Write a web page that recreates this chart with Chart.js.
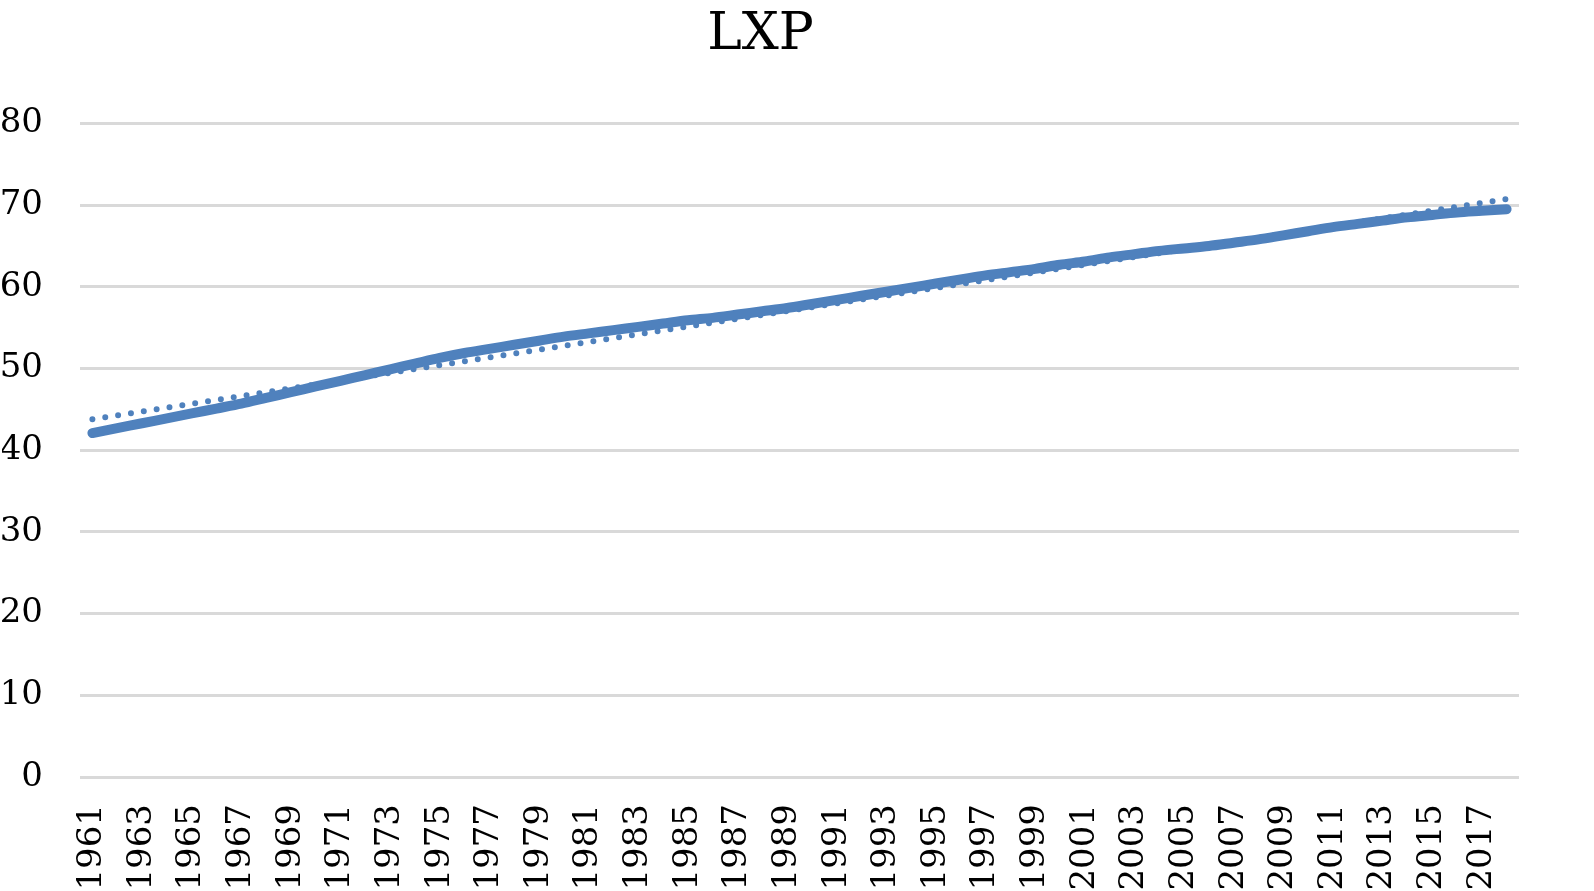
<!DOCTYPE html>
<html>
<head>
<meta charset="utf-8">
<title>LXP</title>
<script src="https://cdn.jsdelivr.net/npm/chart.js@4.4.1/dist/chart.umd.min.js"></script>
<style>
  html, body { margin: 0; padding: 0; background: #fff; }
  #wrap { width: 1594px; height: 891px; position: relative; }
</style>
</head>
<body>
<div id="wrap"><canvas id="lxpChart"></canvas></div>
<script>
// Years on the category axis
const years = [
  1961, 1962, 1963, 1964, 1965, 1966, 1967, 1968, 1969, 1970,
  1971, 1972, 1973, 1974, 1975, 1976, 1977, 1978, 1979, 1980,
  1981, 1982, 1983, 1984, 1985, 1986, 1987, 1988, 1989, 1990,
  1991, 1992, 1993, 1994, 1995, 1996, 1997, 1998, 1999, 2000,
  2001, 2002, 2003, 2004, 2005, 2006, 2007, 2008, 2009, 2010,
  2011, 2012, 2013, 2014, 2015, 2016, 2017, 2018
];

// LXP values
const lxp = [
  42.1, 42.7, 43.3, 43.9, 44.5, 45.1, 45.7, 46.4, 47.1, 47.8,
  48.5, 49.2, 49.9, 50.6, 51.3, 51.9, 52.4, 52.9, 53.4, 53.9,
  54.3, 54.7, 55.1, 55.5, 55.9, 56.2, 56.6, 57.0, 57.4, 57.9,
  58.4, 58.9, 59.4, 59.9, 60.4, 60.9, 61.4, 61.8, 62.2, 62.7,
  63.1, 63.6, 64.0, 64.4, 64.7, 65.0, 65.4, 65.8, 66.3, 66.8,
  67.3, 67.7, 68.1, 68.5, 68.8, 69.1, 69.3, 69.5
];

// linear trendline: only its two ends
const trendStart = 43.8;
const trendEnd = 70.75;

const yTicks = [0, 10, 20, 30, 40, 50, 60, 70, 80];

const trend = years.map((y, i) =>
  i === 0 ? trendStart : i === years.length - 1 ? trendEnd : null
);

const serif = "'DejaVu Serif', 'Liberation Serif', serif";
const blue = "#4f81bd";

Chart.defaults.font.family = serif;
Chart.defaults.color = "#000";

const ctx = document.getElementById("lxpChart").getContext("2d");
new Chart(ctx, {
  type: "line",
  data: {
    labels: years.map(String),
    datasets: [
      {
        label: "LXP",
        data: lxp,
        borderColor: blue,
        borderWidth: 10,
        borderCapStyle: "round",
        borderJoinStyle: "round",
        pointRadius: 0,
        tension: 0.3,
        fill: false,
        order: 1,
      },
      {
        label: "Linear (LXP)",
        data: trend,
        spanGaps: true,
        borderColor: blue,
        borderWidth: 6,
        borderDash: [0, 13],
        borderCapStyle: "round",
        pointRadius: 0,
        fill: false,
        order: 2,
      },
    ],
  },
  options: {
    responsive: true,
    maintainAspectRatio: false,
    animation: false,
    layout: { padding: { left: 2, right: 75, top: 0, bottom: 0 } },
    plugins: {
      legend: { display: false },
      tooltip: { enabled: false },
      title: {
        display: true,
        text: "LXP",
        font: { size: 52, weight: "normal", family: serif },
        color: "#000",
        padding: { top: 4, bottom: 57 },
      },
    },
    scales: {
      x: {
        offset: true,
        grid: { display: false, drawTicks: false },
        border: { display: false },
        afterFit: (axis) => {
          axis.height = 114;
        },
        ticks: {
          autoSkip: false,
          maxRotation: 90,
          minRotation: 90,
          padding: 27,
          font: { size: 34 },
          callback: (value, index) => (index % 2 === 0 ? years[index] : ""),
        },
      },
      y: {
        min: yTicks[0],
        max: yTicks[yTicks.length - 1],
        afterBuildTicks: (axis) => {
          axis.ticks = yTicks.map((v) => ({ value: v }));
        },
        afterFit: (axis) => {
          axis.width = 78;
        },
        grid: { color: "#d9d9d9", lineWidth: 3, drawTicks: false },
        border: { display: false },
        ticks: { padding: 37, font: { size: 34 } },
      },
    },
  },
});
</script>
</body>
</html>
